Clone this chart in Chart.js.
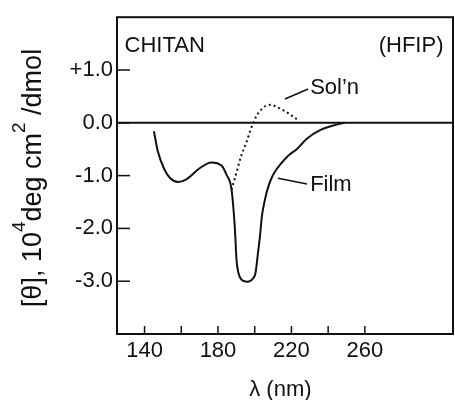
<!DOCTYPE html>
<html>
<head>
<meta charset="utf-8">
<script src="https://cdn.jsdelivr.net/npm/chart.js@4.4.1/dist/chart.umd.min.js"></script>
<style>
  html, body { margin: 0; padding: 0; background: #fff; }
  #wrap { width: 455px; height: 400px; }
</style>
</head>
<body>
<div id="wrap"><canvas id="cd"></canvas></div>
<script>
  // wavelength (nm) / ellipticity (10^4 deg cm2/dmol)
  const filmX = [145.1, 147.3, 150.9, 154.0, 158.2, 162.8, 170.0, 176.4, 181.9, 184.6, 187.4, 189.2, 190.1, 191.2, 192.6, 194.2, 196.0, 197.8, 199.3, 200.4, 202.0, 202.8, 204.0, 205.6, 207.5, 210.1, 215.6, 219.0, 222.9, 228.4, 235.6, 242.9, 249.0];
  const filmY = [-0.16, -0.55, -0.89, -1.05, -1.12, -1.07, -0.86, -0.75, -0.81, -0.98, -1.27, -2.0, -2.6, -2.85, -2.96, -3.0, -3.01, -2.99, -2.94, -2.85, -2.4, -2.17, -1.75, -1.45, -1.2, -0.98, -0.72, -0.6, -0.5, -0.3, -0.14, -0.05, 0];
  const solnX = [187.4, 190.0, 192.8, 195.6, 197.4, 199.2, 201.0, 203.8, 206.0, 208.8, 212.0, 216.5, 220.0, 222.9];
  const solnY = [-1.27, -0.95, -0.61, -0.36, -0.17, 0, 0.13, 0.26, 0.32, 0.34, 0.30, 0.22, 0.14, 0.07];

  const xTicks = [140, 160, 180, 200, 220, 240, 260];
  const xLabels = [140, 180, 220, 260];
  const yTicks = [-3, -2, -1, 0, 1];

  const FONT = '"Liberation Sans", Arial, sans-serif';
  const INK = '#111';

  function pts(xs, ys) {
    return xs.map((x, i) => ({ x, y: ys[i] }));
  }

  function fmtY(v) {
    return v > 0 ? '+' + v.toFixed(1) : v.toFixed(1);
  }

  const decor = {
    id: 'decor',
    afterDatasetsDraw(chart) {
      const { ctx, chartArea: a, scales } = chart;
      const sx = scales.x, sy = scales.y;
      ctx.save();
      ctx.strokeStyle = INK;
      ctx.lineWidth = 2;
      ctx.strokeRect(a.left, a.top, a.right - a.left, a.bottom - a.top);

      // zero line
      const y0 = sy.getPixelForValue(0);
      ctx.beginPath();
      ctx.moveTo(a.left, y0);
      ctx.lineTo(a.right, y0);
      ctx.stroke();

      // inward tick marks
      ctx.lineWidth = 1.5;
      xTicks.forEach((v) => {
        const px = sx.getPixelForValue(v);
        ctx.beginPath();
        ctx.moveTo(px, a.bottom);
        ctx.lineTo(px, a.bottom - 8);
        ctx.stroke();
      });
      yTicks.forEach((v) => {
        const py = sy.getPixelForValue(v);
        ctx.beginPath();
        ctx.moveTo(a.left, py);
        ctx.lineTo(a.left + 13, py);
        ctx.stroke();
      });

      // labels inside the plot
      ctx.fillStyle = INK;
      ctx.font = '22px ' + FONT;
      ctx.textBaseline = 'middle';
      ctx.textAlign = 'left';
      ctx.fillText('CHITAN', sx.getPixelForValue(129.1), sy.getPixelForValue(1.45));
      ctx.textAlign = 'right';
      ctx.fillText('(HFIP)', sx.getPixelForValue(302.8), sy.getPixelForValue(1.45));
      ctx.textAlign = 'left';
      ctx.fillText("Sol\u2019n", sx.getPixelForValue(230.2), sy.getPixelForValue(0.66));
      ctx.fillText('Film', sx.getPixelForValue(230.2), sy.getPixelForValue(-1.17));

      ctx.lineWidth = 1.5;
      ctx.beginPath();
      ctx.moveTo(sx.getPixelForValue(216.5), sy.getPixelForValue(0.45));
      ctx.lineTo(sx.getPixelForValue(229.1), sy.getPixelForValue(0.64));
      ctx.moveTo(sx.getPixelForValue(212.7), sy.getPixelForValue(-1.05));
      ctx.lineTo(sx.getPixelForValue(228.5), sy.getPixelForValue(-1.16));
      ctx.stroke();

      // x axis title
      ctx.textAlign = 'center';
      ctx.fillText('\u03bb (nm)', sx.getPixelForValue(214), a.bottom + 56);

      // y axis title with superscripts
      const parts = [
        ['[\u03b8], 10', 27, 0],
        ['4', 19, -16],
        ['deg cm', 27, 0],
        ['2', 19, -16],
        [' /dmol', 27, 0],
      ];
      let total = 0;
      parts.forEach((p) => {
        ctx.font = p[1] + 'px ' + FONT;
        total += ctx.measureText(p[0]).width;
      });
      ctx.translate(41, 178);
      ctx.rotate(-Math.PI / 2);
      ctx.textAlign = 'left';
      ctx.textBaseline = 'alphabetic';
      let cx = -total / 2;
      parts.forEach((p) => {
        ctx.font = p[1] + 'px ' + FONT;
        ctx.fillText(p[0], cx, p[2]);
        cx += ctx.measureText(p[0]).width;
      });
      ctx.restore();
    },
  };

  new Chart(document.getElementById('cd'), {
    type: 'scatter',
    data: {
      datasets: [
        {
          label: 'Film',
          data: pts(filmX, filmY),
          showLine: true,
          borderColor: INK,
          borderWidth: 2,
          pointRadius: 0,
          cubicInterpolationMode: 'monotone',
        },
        {
          label: "Sol'n",
          data: pts(solnX, solnY),
          showLine: true,
          borderColor: INK,
          borderWidth: 2,
          borderDash: [2, 3],
          pointRadius: 0,
          cubicInterpolationMode: 'monotone',
        },
      ],
    },
    options: {
      responsive: true,
      maintainAspectRatio: false,
      animation: false,
      layout: { padding: { top: 14, right: 2, left: 0, bottom: 0 } },
      plugins: { legend: { display: false }, tooltip: { enabled: false } },
      scales: {
        x: {
          type: 'linear',
          min: 125,
          max: 308,
          afterBuildTicks: (s) => { s.ticks = xLabels.map((v) => ({ value: v })); },
          afterFit: (s) => { s.height = 66; },
          grid: { display: false, drawTicks: false },
          border: { display: false },
          ticks: { color: INK, padding: 4, maxRotation: 0, font: { size: 22, family: FONT } },
        },
        y: {
          type: 'linear',
          min: -4,
          max: 2,
          afterBuildTicks: (s) => { s.ticks = yTicks.map((v) => ({ value: v })); },
          afterFit: (s) => { s.width = 117; },
          grid: { display: false, drawTicks: false },
          border: { display: false },
          ticks: { color: INK, padding: 4, callback: (v) => fmtY(v), font: { size: 22, family: FONT } },
        },
      },
    },
    plugins: [decor],
  });
</script>
</body>
</html>
